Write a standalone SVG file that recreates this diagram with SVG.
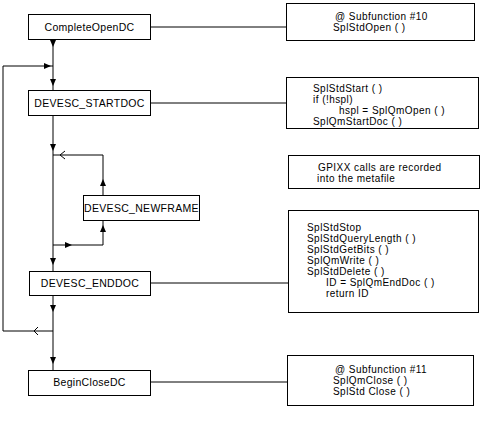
<svg xmlns="http://www.w3.org/2000/svg" xmlns:xlink="http://www.w3.org/1999/xlink" width="488" height="433" viewBox="0 0 488 433">
<style>
.box{fill:#fff;stroke:#000;stroke-width:1}
.ln{fill:none;stroke:#000;stroke-width:1}
.lbl{font-family:"Liberation Sans",Arial,sans-serif;font-size:10.5px;letter-spacing:0.3px;fill:#000}
.txt{font-family:"Liberation Sans",Arial,sans-serif;font-size:10px;letter-spacing:0.45px;fill:#000}
.ah{fill:#000;stroke:none}
</style>
<defs>
<path id="ad" d="M-3,-4 L3,-4 L0,3 Z"/>
<path id="au" d="M-3,4 L3,4 L0,-3 Z"/>
<path id="ar" d="M-4,-3 L-4,3 L3,0 Z"/>
</defs>
<rect width="488" height="433" fill="#fff"/>
<g id="connectors">
<path class="ln" d="M53,39 V90 M53,115 V271 M53,295 V370"/>
<path class="ln" d="M3,66 H53 M3,66 V331 H53"/>
<path class="ln" d="M53,155 H103 V195 M103,220 V245 H53"/>
<path class="ln" d="M151,27 H298 M151,103 H298 M151,283 H299 M151,382 H299"/>
<use href="#ad" class="ah" x="53" y="44"/>
<use href="#ad" class="ah" x="53" y="83"/>
<use href="#ad" class="ah" x="53" y="148"/>
<use href="#ad" class="ah" x="53" y="262"/>
<use href="#ad" class="ah" x="53" y="309"/>
<use href="#ad" class="ah" x="53" y="361"/>
<use href="#ar" class="ah" x="48" y="66"/>
<use href="#ar" class="ah" x="69" y="245"/>
<use href="#au" class="ah" x="103" y="182"/>
<use href="#au" class="ah" x="103" y="228"/>
<use href="#ar" class="ah" x="298" y="27"/>
<use href="#ar" class="ah" x="298" y="103"/>
<use href="#ar" class="ah" x="299" y="283"/>
<use href="#ar" class="ah" x="299" y="382"/>
<path class="ln" d="M65,151 L60,155 L65,159"/>
<path class="ln" d="M38,327 L34,331 L38,335"/>
</g>
<g id="CompleteOpenDC"><rect class="box" x="28.5" y="14.5" width="122" height="25"/><text class="lbl" x="89.5" y="31" text-anchor="middle">CompleteOpenDC</text></g>
<g id="DEVESC_STARTDOC"><rect class="box" x="28.5" y="90.5" width="122" height="25"/><text class="lbl" x="89.5" y="107" text-anchor="middle">DEVESC_STARTDOC</text></g>
<g id="DEVESC_NEWFRAME"><rect class="box" x="83.5" y="195.5" width="116" height="25"/><text class="lbl" x="141.5" y="212" text-anchor="middle">DEVESC_NEWFRAME</text></g>
<g id="DEVESC_ENDDOC"><rect class="box" x="29.5" y="271.5" width="121" height="24"/><text class="lbl" x="90" y="287" text-anchor="middle">DEVESC_ENDDOC</text></g>
<g id="BeginCloseDC"><rect class="box" x="28.5" y="370.5" width="122" height="25"/><text class="lbl" x="89.5" y="386" text-anchor="middle">BeginCloseDC</text></g>
<g id="sub10"><rect class="box" x="286.5" y="3.5" width="188" height="37"/><text class="txt" x="335" y="20">@ Subfunction #10</text><text class="txt" x="333" y="31">SplStdOpen ( )</text></g>
<g id="startdoc-calls"><rect class="box" x="286.5" y="77.5" width="192" height="51"/>
<text class="txt" x="313" y="92">SplStdStart ( )</text>
<text class="txt" x="313" y="103">if (!hspl)</text>
<text class="txt" x="339" y="114">hspl = SplQmOpen ( )</text>
<text class="txt" x="313" y="125">SplQmStartDoc ( )</text></g>
<g id="gpixx"><rect class="box" x="288.5" y="155.5" width="191" height="33"/>
<text class="txt" x="318" y="171">GPIXX calls are recorded</text>
<text class="txt" x="317" y="182">into the metafile</text></g>
<g id="enddoc-calls"><rect class="box" x="288.5" y="210.5" width="190" height="102"/>
<text class="txt" x="307" y="231">SplStdStop</text>
<text class="txt" x="307" y="242">SplStdQueryLength ( )</text>
<text class="txt" x="307" y="253">SplStdGetBits ( )</text>
<text class="txt" x="307" y="264">SplQmWrite ( )</text>
<text class="txt" x="307" y="275">SplStdDelete ( )</text>
<text class="txt" x="326" y="286">ID = SplQmEndDoc ( )</text>
<text class="txt" x="326" y="297">return ID</text></g>
<g id="sub11"><rect class="box" x="287.5" y="355.5" width="186" height="50"/>
<text class="txt" x="335" y="373">@ Subfunction #11</text>
<text class="txt" x="333" y="384">SplQmClose ( )</text>
<text class="txt" x="333" y="395">SplStd Close ( )</text></g>
</svg>
